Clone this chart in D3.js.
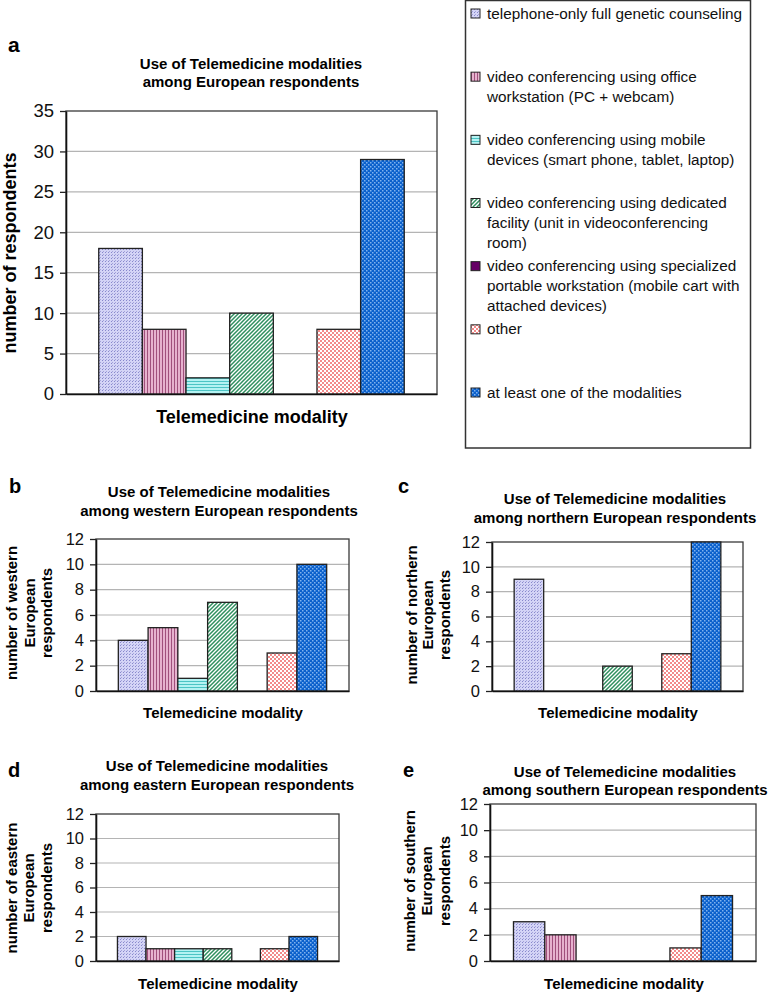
<!DOCTYPE html>
<html>
<head>
<meta charset="utf-8">
<script src="https://cdn.jsdelivr.net/npm/d3@7"></script>
<style>
  html, body { margin: 0; padding: 0; background: #fff; }
  svg { display: block; font-family: "Liberation Sans", Arial, Helvetica, sans-serif; }
</style>
</head>
<body>
<svg id="chart" width="772" height="994"></svg>
<script>
// ---------------- DATA ----------------
const modalities = [
  "telephone-only full genetic counseling",
  "video conferencing using office workstation (PC + webcam)",
  "video conferencing using mobile devices (smart phone, tablet, laptop)",
  "video conferencing using dedicated facility (unit in videoconferencing room)",
  "video conferencing using specialized portable workstation (mobile cart with attached devices)",
  "other",
  "at least one of the modalities"
];
const legendLines = [
  ["telephone-only full genetic counseling"],
  ["video conferencing using office", "workstation (PC + webcam)"],
  ["video conferencing using mobile", "devices (smart phone, tablet, laptop)"],
  ["video conferencing using dedicated", "facility (unit in videoconferencing", "room)"],
  ["video conferencing using specialized", "portable workstation (mobile cart with", "attached devices)"],
  ["other"],
  ["at least one of the modalities"]
];
const valuesEuropean = [18, 8, 2, 10, 0, 8, 29];
const valuesWestern  = [4, 5, 1, 7, 0, 3, 10];
const valuesNorthern = [9, 0, 0, 2, 0, 3, 12];
const valuesEastern  = [2, 1, 1, 1, 0, 1, 2];
const valuesSouthern = [3, 2, 0, 0, 0, 1, 5];
const ticksEuropean = [0, 5, 10, 15, 20, 25, 30, 35];
const ticksRegion   = [0, 2, 4, 6, 8, 10, 12];
const xTitle = "Telemedicine modality";
const titleLine1 = "Use of Telemedicine modalities";

// ---------------- LAYOUT ----------------
const panels = [
  { letter: "a", lx: 8, ly: 52, lsize: 21, values: valuesEuropean, ticks: ticksEuropean,
    left: 66, right: 437, top: 111, bottom: 394,
    title: [titleLine1, "among European respondents"], tx: 251, ty: [69, 87],
    xt: 252, xty: 423, ylab: ["number of respondents"], ylx: [16], yly: 253,
    fs: 15, axfs: 18, tickfs: 18.5 },
  { letter: "b", lx: 9, ly: 493, lsize: 20, values: valuesWestern, ticks: ticksRegion,
    left: 96, right: 349, top: 539, bottom: 691,
    title: [titleLine1, "among western European respondents"], tx: 219, ty: [497, 516],
    xt: 223, xty: 718, ylab: ["number of western", "European", "respondents"], ylx: [17, 35, 52], yly: 613,
    fs: 15, axfs: 15, tickfs: 16.5 },
  { letter: "c", lx: 398, ly: 493, lsize: 20, values: valuesNorthern, ticks: ticksRegion,
    left: 492, right: 743, top: 542, bottom: 691,
    title: [titleLine1, "among northern European respondents"], tx: 615, ty: [504, 523],
    xt: 618, xty: 718, ylab: ["number of northern", "European", "respondents"], ylx: [417, 433, 450], yly: 615,
    fs: 15, axfs: 15, tickfs: 16.5 },
  { letter: "d", lx: 8, ly: 777, lsize: 20, values: valuesEastern, ticks: ticksRegion,
    left: 96, right: 339, top: 814, bottom: 961,
    title: [titleLine1, "among eastern European respondents"], tx: 217, ty: [771, 790],
    xt: 218, xty: 989, ylab: ["number of eastern", "European", "respondents"], ylx: [17, 34, 52], yly: 888,
    fs: 15, axfs: 15, tickfs: 16.5 },
  { letter: "e", lx: 403, ly: 777, lsize: 20, values: valuesSouthern, ticks: ticksRegion,
    left: 490, right: 756, top: 804, bottom: 961,
    title: [titleLine1, "among southern European respondents"], tx: 625, ty: [777, 795],
    xt: 624, xty: 989, ylab: ["number of southern", "European", "respondents"], ylx: [415, 432, 450], yly: 881,
    fs: 15, axfs: 15, tickfs: 16.5 }
];

const svg = d3.select("#chart");
const defs = svg.append("defs");

// ---------------- PATTERNS ----------------
function pat(id, w, h, bg, draw) {
  const p = defs.append("pattern").attr("id", id).attr("patternUnits", "userSpaceOnUse")
    .attr("width", w).attr("height", h);
  p.append("rect").attr("width", w).attr("height", h).attr("fill", bg);
  draw(p);
}
pat("p0", 3, 3, "#d4d4f6", p => {
  p.append("rect").attr("x", 0).attr("y", 0).attr("width", 1).attr("height", 1).attr("fill", "#8888cc");
  p.append("rect").attr("x", 1).attr("y", 2).attr("width", 1).attr("height", 1).attr("fill", "#a4a4da");
});
pat("p1", 3, 3, "#e6b2ce", p => {
  p.append("rect").attr("x", 0).attr("y", 0).attr("width", 1).attr("height", 3).attr("fill", "#a0507c");
});
pat("p2", 3, 3, "#b4f2f2", p => {
  p.append("rect").attr("x", 0).attr("y", 0).attr("width", 3).attr("height", 1).attr("fill", "#4cc4c4");
});
pat("p3", 4, 4, "#ffffff", p => {
  p.append("path").attr("d", "M-1,1 L1,-1 M0,4 L4,0 M3,5 L5,3").attr("stroke", "#2f8f5f").attr("stroke-width", 1.5);
});
pat("p4", 4, 4, "#660066", p => {});
pat("p5", 4, 4, "#ffffff", p => {
  p.append("rect").attr("x", 0).attr("y", 0).attr("width", 2).attr("height", 2).attr("fill", "#f38a8a");
  p.append("rect").attr("x", 2).attr("y", 2).attr("width", 2).attr("height", 2).attr("fill", "#f38a8a");
});
pat("p6", 4, 4, "#0a60cc", p => {
  p.append("rect").attr("x", 0).attr("y", 0).attr("width", 1.5).attr("height", 1.5).attr("fill", "#7fb2ee");
  p.append("rect").attr("x", 2).attr("y", 2).attr("width", 1.5).attr("height", 1.5).attr("fill", "#7fb2ee");
});
const fillFor = i => `url(#p${i})`;

// ---------------- PANELS ----------------
panels.forEach(p => {
  const g = svg.append("g");
  const maxV = d3.max(p.ticks);
  const x = d3.scaleBand().domain(d3.range(modalities.length))
    .range([p.left, p.right]).paddingInner(0).paddingOuter(0.75);
  const y = d3.scaleLinear().domain([0, maxV]).range([p.bottom, p.top]);

  g.append("g").selectAll("line").data(p.ticks.filter(t => t > 0 && t < maxV)).join("line")
    .attr("x1", p.left).attr("x2", p.right)
    .attr("y1", d => y(d)).attr("y2", d => y(d))
    .attr("stroke", "#b4b4b4").attr("stroke-width", 1.2);

  g.append("rect").attr("x", p.left).attr("y", y(maxV))
    .attr("width", p.right - p.left).attr("height", y(0) - y(maxV))
    .attr("fill", "none").attr("stroke", "#3a3a3a").attr("stroke-width", 1.3);

  g.append("g").selectAll("rect")
    .data(p.values.map((v, i) => ({ v, i })).filter(d => d.v > 0))
    .join("rect")
    .attr("x", d => x(d.i)).attr("width", x.bandwidth())
    .attr("y", d => y(d.v)).attr("height", d => y(0) - y(d.v))
    .attr("fill", d => fillFor(d.i))
    .attr("stroke", "#222").attr("stroke-width", 1.3);

  const ya = g.append("g").attr("transform", `translate(${p.left},0)`)
    .call(d3.axisLeft(y).tickValues(p.ticks).tickSize(6).tickSizeOuter(0).tickPadding(6));
  ya.select(".domain").attr("stroke", "#111").attr("stroke-width", 1.6);
  ya.selectAll(".tick line").attr("stroke", "#222").attr("stroke-width", 1.3);
  ya.selectAll(".tick text").attr("font-size", p.tickfs).attr("fill", "#111")
    .attr("font-family", "Liberation Sans, Arial, sans-serif");

  const xa = g.append("g").attr("transform", `translate(0,${p.bottom})`)
    .call(d3.axisBottom(x).tickValues([]).tickSizeOuter(0));
  xa.select(".domain").attr("stroke", "#111").attr("stroke-width", 1.6);

  g.append("text").attr("x", p.lx).attr("y", p.ly).attr("font-size", p.lsize)
    .attr("font-weight", "bold").attr("fill", "#000").text(p.letter);
  g.selectAll("text.title").data(p.title).join("text").attr("class", "title")
    .attr("x", p.tx).attr("y", (d, i) => p.ty[i]).attr("text-anchor", "middle")
    .attr("font-size", p.fs).attr("font-weight", "bold").attr("fill", "#000").text(d => d);
  g.append("text").attr("x", p.xt).attr("y", p.xty).attr("text-anchor", "middle")
    .attr("font-size", p.axfs).attr("font-weight", "bold").attr("fill", "#000").text(xTitle);
  g.selectAll("text.ylab").data(p.ylab).join("text").attr("class", "ylab")
    .attr("transform", (d, i) => `translate(${p.ylx[i]},${p.yly}) rotate(-90)`)
    .attr("text-anchor", "middle").attr("font-size", p.axfs).attr("font-weight", "bold")
    .attr("fill", "#000").text(d => d);
});

// ---------------- LEGEND ----------------
const lg = svg.append("g");
lg.append("rect").attr("x", 465.5).attr("y", 0.5).attr("width", 285).attr("height", 447.5)
  .attr("fill", "#fff").attr("stroke", "#333").attr("stroke-width", 1.5);
const legY = d3.scaleLinear().domain([0, modalities.length - 1]).range([13.5, 392.5]);
const items = lg.selectAll("g.item").data(modalities).join("g").attr("class", "item");
items.append("rect").attr("x", 471).attr("y", (d, i) => legY(i) - 4.5)
  .attr("width", 9).attr("height", 9).attr("fill", (d, i) => fillFor(i))
  .attr("stroke", "#222").attr("stroke-width", 1);
items.each(function(d, i) {
  d3.select(this).selectAll("text").data(legendLines[i]).join("text")
    .attr("x", 487).attr("y", (t, j) => legY(i) + 5 + j * 20)
    .attr("font-size", 15.3).attr("fill", "#111").text(t => t);
});
</script>
</body>
</html>
